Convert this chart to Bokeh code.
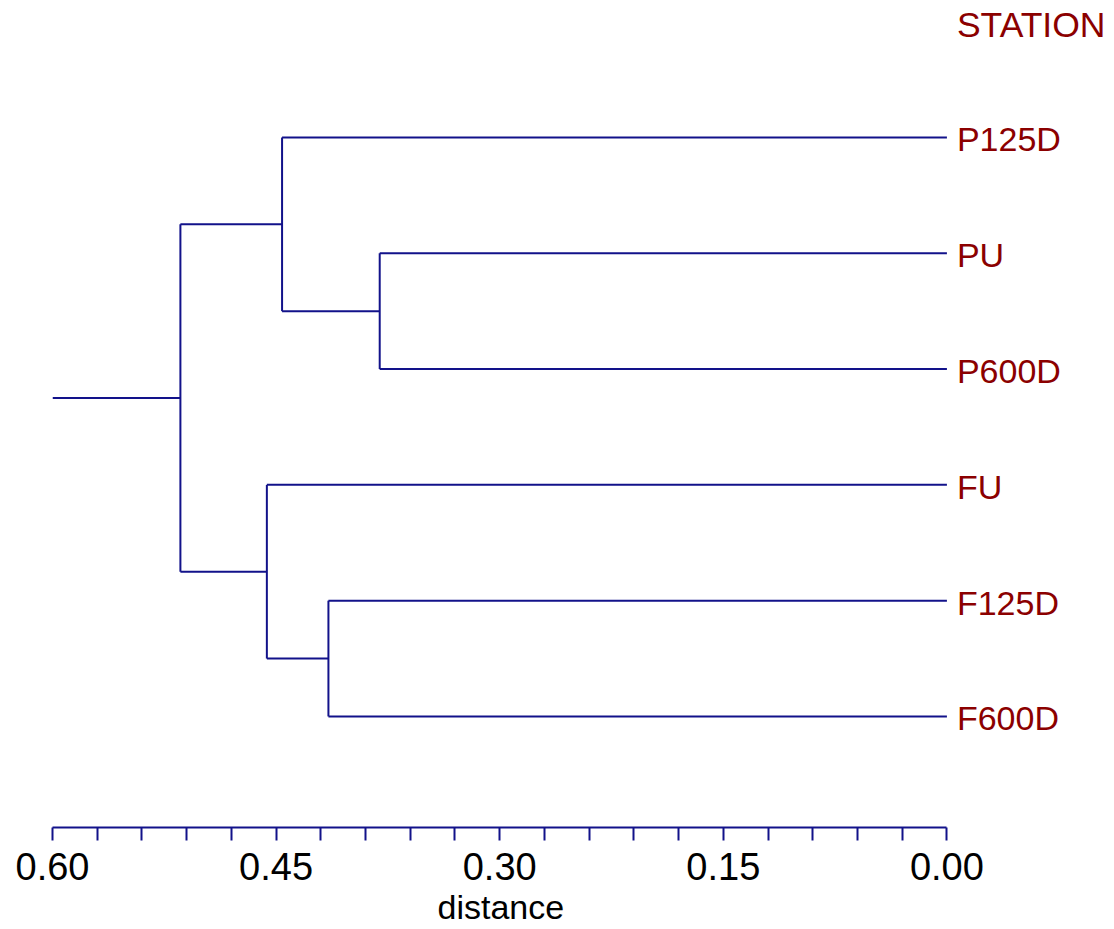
from bokeh.plotting import figure
from bokeh.models import (Range1d, LinearAxis, FixedTicker, NumeralTickFormatter,
                          ColumnDataSource, Title)
from bokeh.core.properties import value
from bokeh.embed import file_html
from bokeh.resources import INLINE

# ---- data ----
leaf_labels = ["P125D", "PU", "P600D", "FU", "F125D", "F600D"]
header_label = "STATION"
# merges: (left child, right child, distance); children < 0 are leaves (-(index+1)), >= 0 are earlier merges
merge_left = [-2, -1, -5, -4, 1]
merge_right = [-3, 0, -6, 2, 3]
merge_height = [0.3805, 0.4460, 0.4149, 0.4562, 0.5142]
root_stem_to = 0.60
tick_values = [0.00, 0.15, 0.30, 0.45, 0.60]
minor_tick_values = [0.03, 0.06, 0.09, 0.12, 0.18, 0.21, 0.24, 0.27, 0.33, 0.36,
                     0.39, 0.42, 0.48, 0.51, 0.54, 0.57]
axis_title = "distance"

LINE = "#12128a"
TEXT = "#8b0000"

# ---- compute dendrogram segments ----
leaf_y = {i: i + 1 for i in range(len(leaf_labels))}
node_pos = []  # (height, y)


def pos(c):
    if c < 0:
        return 0.0, leaf_y[-c - 1]
    return node_pos[c]


x0, x1, y0, y1 = [], [], [], []
for a, b, h in zip(merge_left, merge_right, merge_height):
    ha, ya = pos(a)
    hb, yb = pos(b)
    x0 += [ha, hb]; x1 += [h, h]; y0 += [ya, yb]; y1 += [ya, yb]
    x0.append(h); x1.append(h); y0.append(ya); y1.append(yb)
    node_pos.append((h, (ya + yb) / 2))

rh, ry = node_pos[-1]
x0.append(rh); x1.append(root_stem_to); y0.append(ry); y1.append(ry)

seg = ColumnDataSource(dict(x0=x0, x1=x1, y0=y0, y1=y1))

p = figure(frame_width=1062, frame_height=819,
           x_range=Range1d(0.6, -0.11242), y_range=Range1d(6.959, -0.114),
           x_axis_location=None, y_axis_location=None,
           toolbar_location=None, output_backend="svg",
           min_border_left=52, min_border_right=0, min_border_top=8, min_border_bottom=0)
p.outline_line_color = None
p.xgrid.visible = False
p.ygrid.visible = False
p.background_fill_color = "white"

p.segment("x0", "y0", "x1", "y1", source=seg, line_color=LINE, line_width=2)

lab = ColumnDataSource(dict(x=[0.0] * len(leaf_labels),
                            y=[leaf_y[i] for i in range(len(leaf_labels))],
                            t=leaf_labels))
p.text("x", "y", text="t", source=lab, x_offset=10, y_offset=2, text_align="left",
       text_baseline="middle", text_color=TEXT, text_font=value("Liberation Sans"),
       text_font_size="34px")
p.text(x=[0.0], y=[0], text=[header_label], x_offset=10, y_offset=3, text_align="left",
       text_baseline="middle", text_color=TEXT, text_font=value("Liberation Sans"),
       text_font_size="35.5px")

ax = LinearAxis(ticker=FixedTicker(ticks=tick_values, minor_ticks=minor_tick_values),
                formatter=NumeralTickFormatter(format="0.00"), bounds=(0, 0.6))
ax.axis_line_color = LINE
ax.axis_line_width = 2
ax.major_tick_line_color = LINE
ax.major_tick_line_width = 2
ax.minor_tick_line_color = LINE
ax.minor_tick_line_width = 2
ax.major_tick_in = 0
ax.major_tick_out = 13
ax.minor_tick_in = 0
ax.minor_tick_out = 13
ax.major_label_text_font = "Liberation Sans"
ax.major_label_text_font_size = "38px"
ax.major_label_text_color = "black"
ax.major_label_standoff = 12
p.add_layout(ax, "below")

# axis title placed under the middle of the axis span (frame extends right for the leaf labels)
t = Title(text=axis_title, align="left", offset=385, standoff=6,
          text_font="Liberation Sans", text_font_size="34px",
          text_font_style="normal", text_color="black")
p.add_layout(t, "below")

open("out.html", "w").write(file_html(p, INLINE))
